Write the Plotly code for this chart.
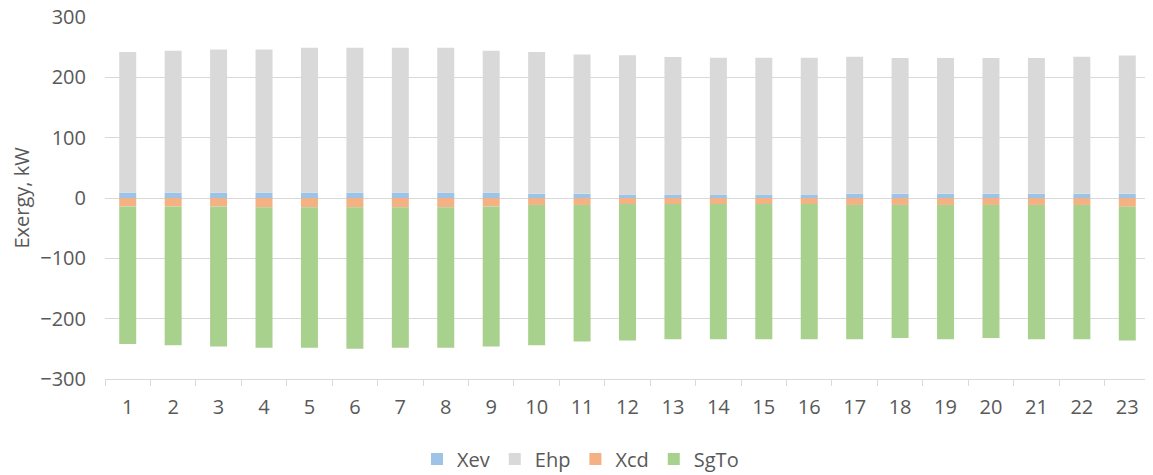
import plotly.graph_objects as go

# hours 1..23
hours = [str(h) for h in range(1, 24)]

# exergy flows, kW
xev = [9, 9, 9, 9, 9, 9, 9, 9, 9, 7, 7, 5.5, 5.5, 5.5, 5.5, 5.5, 7, 7, 7, 7, 7, 7, 7]
ehp = [233, 235, 237, 237, 240, 240, 240, 240, 235, 235, 231, 231, 228, 227, 227, 227, 227, 225, 225, 225, 225, 227, 229]
xcd = [-14, -14, -14, -15.5, -15.5, -15.5, -15.5, -15.5, -14, -11.5, -11.5, -10, -10, -10, -10, -10,
       -11.5, -11.5, -11.5, -11.5, -11.5, -11.5, -14.5]
sgto = [-228, -230, -232, -232.5, -232.5, -234.5, -232.5, -232.5, -232, -232.5, -226.5, -226, -224, -224,
        -224, -224, -222.5, -220.5, -222.5, -220.5, -222.5, -222.5, -221.5]

grid = "#d9d9d9"
txt = "#595959"
fnt = "Open Sans"

fig = go.Figure()
fig.add_trace(go.Bar(x=hours, y=xev, name="Xev", marker_color="#9dc3e6"))
fig.add_trace(go.Bar(x=hours, y=ehp, name="Ehp", marker_color="#d9d9d9"))
fig.add_trace(go.Bar(x=hours, y=xcd, name="Xcd", marker_color="#f4b183"))
fig.add_trace(go.Bar(x=hours, y=sgto, name="SgTo", marker_color="#a9d18e"))

fig.update_traces(marker_line_width=0)

# page body adds an 8px margin, so the figure is a bit smaller than the window
fig.update_layout(
    width=1145, height=467,
    barmode="relative",
    bargap=0.626,
    plot_bgcolor="white",
    paper_bgcolor="white",
    margin=dict(l=97, r=3, t=9, b=96, autoexpand=False),
    font=dict(family=fnt, size=20, color=txt),
    legend=dict(orientation="h", xref="container", x=0.5, xanchor="center",
                yref="container", y=0.034, yanchor="middle",
                traceorder="normal", font=dict(size=20, color=txt), itemwidth=30),
    showlegend=True,
)

fig.update_xaxes(type="category", showline=True, linecolor=grid, linewidth=1,
                 ticks="outside", tickson="boundaries", ticklen=6, tickcolor=grid,
                 showgrid=False, ticklabelstandoff=10, automargin=False)
fig.update_yaxes(range=[-300, 300], dtick=100, showgrid=True, gridcolor=grid, gridwidth=1,
                 zeroline=True, zerolinecolor=grid, zerolinewidth=1, showline=False,
                 ticks="", ticklabelstandoff=18, automargin=False, ticklabeloverflow="allow",
                 title=dict(text="Exergy, kW", font=dict(size=20, color=txt), standoff=8))

fig.write_html("out.html")
